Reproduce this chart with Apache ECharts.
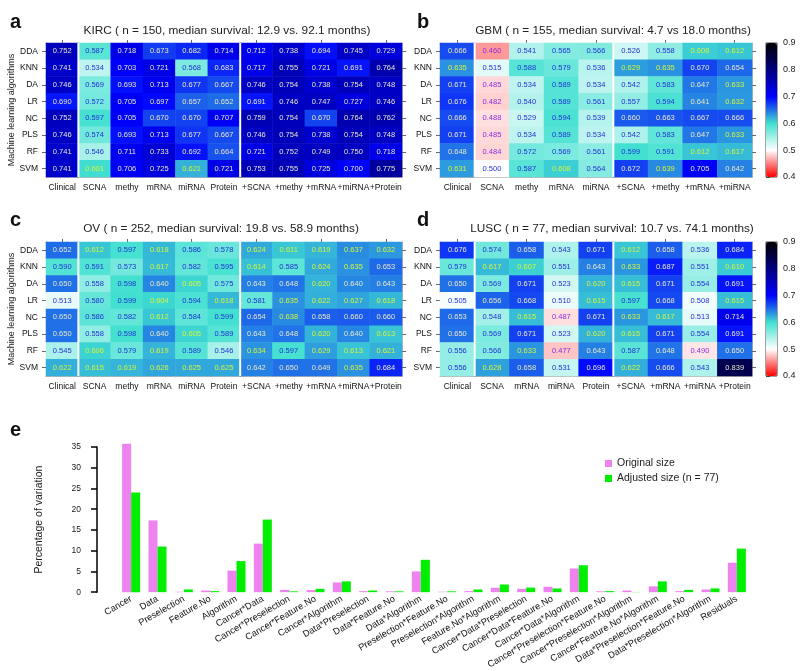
<!DOCTYPE html>
<html>
<head>
<meta charset="utf-8">
<script src="https://cdn.jsdelivr.net/npm/echarts@6/dist/echarts.min.js"></script>
<style>
  html, body { margin: 0; padding: 0; background: #fff; }
  #main { width: 800px; height: 671px; }
</style>
</head>
<body>
<div id="main"></div>
<script>
// rows of every heatmap
var algorithms = ['DDA', 'KNN', 'DA', 'LR', 'NC', 'PLS', 'RF', 'SVM'];

// a: KIRC
var kircTypes = ['Clinical', 'SCNA', 'methy', 'mRNA', 'miRNA', 'Protein', '+SCNA', '+methy', '+mRNA', '+miRNA', '+Protein'];
var kircAuc = [
  [0.752, 0.587, 0.718, 0.673, 0.682, 0.714, 0.712, 0.738, 0.694, 0.745, 0.729],
  [0.741, 0.534, 0.703, 0.721, 0.568, 0.683, 0.717, 0.755, 0.721, 0.691, 0.764],
  [0.746, 0.569, 0.693, 0.713, 0.677, 0.667, 0.746, 0.754, 0.738, 0.754, 0.748],
  [0.690, 0.572, 0.705, 0.697, 0.657, 0.652, 0.691, 0.746, 0.747, 0.727, 0.746],
  [0.752, 0.597, 0.705, 0.670, 0.670, 0.707, 0.759, 0.754, 0.670, 0.764, 0.762],
  [0.746, 0.574, 0.693, 0.713, 0.677, 0.667, 0.746, 0.754, 0.738, 0.754, 0.748],
  [0.741, 0.546, 0.711, 0.733, 0.692, 0.664, 0.721, 0.752, 0.749, 0.750, 0.718],
  [0.741, 0.601, 0.706, 0.725, 0.621, 0.721, 0.753, 0.755, 0.725, 0.700, 0.775]
];

// b: GBM
var gbmTypes = ['Clinical', 'SCNA', 'methy', 'mRNA', 'miRNA', '+SCNA', '+methy', '+mRNA', '+miRNA'];
var gbmAuc = [
  [0.666, 0.460, 0.541, 0.565, 0.566, 0.526, 0.558, 0.608, 0.612],
  [0.635, 0.515, 0.588, 0.579, 0.536, 0.629, 0.635, 0.670, 0.654],
  [0.671, 0.485, 0.534, 0.589, 0.534, 0.542, 0.583, 0.647, 0.633],
  [0.676, 0.482, 0.540, 0.589, 0.561, 0.557, 0.594, 0.641, 0.632],
  [0.666, 0.488, 0.529, 0.594, 0.539, 0.660, 0.663, 0.667, 0.666],
  [0.671, 0.485, 0.534, 0.589, 0.534, 0.542, 0.583, 0.647, 0.633],
  [0.648, 0.484, 0.572, 0.569, 0.561, 0.599, 0.591, 0.612, 0.617],
  [0.631, 0.500, 0.587, 0.608, 0.564, 0.672, 0.639, 0.705, 0.642]
];

// c: OV
var ovTypes = ['Clinical', 'SCNA', 'methy', 'mRNA', 'miRNA', 'Protein', '+SCNA', '+methy', '+mRNA', '+miRNA', '+Protein'];
var ovAuc = [
  [0.652, 0.612, 0.597, 0.618, 0.586, 0.578, 0.624, 0.611, 0.619, 0.637, 0.632],
  [0.590, 0.591, 0.573, 0.617, 0.582, 0.595, 0.614, 0.585, 0.624, 0.635, 0.653],
  [0.650, 0.558, 0.598, 0.640, 0.605, 0.575, 0.643, 0.648, 0.620, 0.640, 0.643],
  [0.513, 0.580, 0.599, 0.604, 0.594, 0.618, 0.581, 0.635, 0.622, 0.627, 0.618],
  [0.650, 0.586, 0.582, 0.612, 0.584, 0.599, 0.654, 0.638, 0.658, 0.660, 0.660],
  [0.650, 0.558, 0.598, 0.640, 0.605, 0.589, 0.643, 0.648, 0.620, 0.640, 0.613],
  [0.545, 0.606, 0.579, 0.619, 0.589, 0.546, 0.634, 0.597, 0.629, 0.613, 0.621],
  [0.622, 0.615, 0.619, 0.626, 0.625, 0.625, 0.642, 0.650, 0.649, 0.635, 0.684]
];

// d: LUSC
var luscTypes = ['Clinical', 'SCNA', 'mRNA', 'miRNA', 'Protein', '+SCNA', '+mRNA', '+miRNA', '+Protein'];
var luscAuc = [
  [0.676, 0.574, 0.658, 0.543, 0.671, 0.612, 0.658, 0.536, 0.684],
  [0.579, 0.617, 0.607, 0.551, 0.643, 0.633, 0.687, 0.551, 0.610],
  [0.650, 0.569, 0.671, 0.523, 0.620, 0.615, 0.671, 0.554, 0.691],
  [0.505, 0.656, 0.668, 0.510, 0.615, 0.597, 0.668, 0.508, 0.615],
  [0.653, 0.548, 0.615, 0.487, 0.671, 0.633, 0.617, 0.513, 0.714],
  [0.650, 0.569, 0.671, 0.523, 0.620, 0.615, 0.671, 0.554, 0.691],
  [0.556, 0.566, 0.633, 0.477, 0.643, 0.587, 0.648, 0.490, 0.650],
  [0.556, 0.628, 0.658, 0.531, 0.696, 0.622, 0.666, 0.543, 0.839]
];

// e: variance partition
var factors = ['Cancer', 'Data', 'Preselection', 'Feature.No', 'Algorithm', 'Cancer*Data',
  'Cancer*Preselection', 'Cancer*Feature.No', 'Cancer*Algorithm', 'Data*Preselection',
  'Data*Feature.No', 'Data*Algorithm', 'Preselection*Feature.No', 'Preselection*Algorithm',
  'Feature.No*Algorithm', 'Cancer*Data*Preselection', 'Cancer*Data*Feature.No',
  'Cancer*Data*Algorithm', 'Cancer*Preselection*Feature.No', 'Cancer*Preselection*Algorithm',
  'Cancer*Feature.No*Algorithm', 'Data*Preselection*Feature.No', 'Data*Preselection*Algorithm',
  'Residuals'];
var originalSize = [35.8, 17.3, 0.1, 0.4, 5.2, 11.7, 0.55, 0.5, 2.35, 0.25, 0.2, 5.0,
  0.1, 0.25, 1.05, 0.8, 1.3, 5.7, 0.2, 0.4, 1.4, 0.25, 0.65, 7.1];
var adjustedSize = [24.0, 11.0, 0.65, 0.25, 7.5, 17.5, 0.2, 0.8, 2.6, 0.4, 0.2, 7.8,
  0.2, 0.65, 1.85, 1.1, 0.9, 6.5, 0.25, 0.05, 2.6, 0.55, 0.9, 10.5];

var FONT = '"Liberation Sans", Arial, sans-serif';
var heatColors = ['#ff0000', '#ffffff', '#40e0d0', '#0000ff', '#000080', '#000000'];

function textColor(v) {
  if (v < 0.5) return '#8a2be2';
  if (v < 0.6) return '#2430d8';
  if (v < 0.64) return '#d4f23c';
  return '#e6e6c8';
}

var panels = [
  { title: 'KIRC ( n = 150, median survival: 12.9 vs. 92.1 months)', cx: 222, ty: 20,
    cols: kircTypes, vals: kircAuc, seps: [0, 5], yName: true,
    box: { left: 46, top: 43, width: 356, height: 134 } },
  { title: 'GBM ( n = 155, median survival: 4.7 vs 18.0 months)', cx: 608, ty: 20,
    cols: gbmTypes, vals: gbmAuc, seps: [0, 4], yName: false,
    box: { left: 440, top: 43, width: 312, height: 134 } },
  { title: 'OV ( n = 252, median survival: 19.8 vs. 58.9 months)', cx: 216, ty: 218,
    cols: ovTypes, vals: ovAuc, seps: [0, 5], yName: true,
    box: { left: 46, top: 242, width: 356, height: 134 } },
  { title: 'LUSC ( n = 77, median survival: 10.7 vs. 74.1 months)', cx: 607, ty: 218,
    cols: luscTypes, vals: luscAuc, seps: [0, 4], yName: false,
    box: { left: 440, top: 242, width: 312, height: 134 } }
];

var grids = [], xAxes = [], yAxes = [], series = [], titles = [];
var frame = { show: true, lineStyle: { color: '#888', width: 0.6 } };

panels.forEach(function (p, i) {
  grids.push(p.box);
  titles.push({ text: p.title, left: p.cx, top: p.ty, textAlign: 'center',
    textStyle: { fontSize: 11.8, fontWeight: 'normal', color: '#222', fontFamily: FONT } });
  xAxes.push({ type: 'category', gridIndex: i, data: p.cols, position: 'bottom',
    axisLine: frame, axisTick: { show: false }, splitLine: { show: false },
    axisLabel: { interval: 0, fontSize: 8.5, color: '#111', margin: 6, fontFamily: FONT } });
  xAxes.push({ type: 'category', gridIndex: i, data: p.cols, position: 'top',
    axisLine: frame, axisLabel: { show: false }, splitLine: { show: false },
    axisTick: { show: true, alignWithLabel: true, length: 3, lineStyle: { color: '#666' } } });
  yAxes.push({ type: 'category', gridIndex: i, data: algorithms, inverse: true, position: 'left',
    axisLine: frame, splitLine: { show: false },
    axisTick: { show: true, alignWithLabel: true, length: 4, lineStyle: { color: '#666' } },
    axisLabel: { fontSize: 8.5, color: '#111', margin: 8, fontFamily: FONT },
    name: p.yName ? 'Machine learning algorithms' : '', nameLocation: 'middle', nameGap: 30,
    nameTextStyle: { fontSize: 9, color: '#222', fontFamily: FONT } });
  yAxes.push({ type: 'category', gridIndex: i, data: algorithms, inverse: true, position: 'right',
    axisLine: frame, axisLabel: { show: false }, splitLine: { show: false },
    axisTick: { show: true, alignWithLabel: true, length: 4, lineStyle: { color: '#666' } } });
});

// colorbar axes (grids 4 and 5)
[43, 242].forEach(function (top, k) {
  var gi = 4 + k;
  grids.push({ left: 766, top: top, width: 11, height: 134, show: true,
    borderColor: '#444', borderWidth: 1, backgroundColor: 'transparent' });
  xAxes.push({ type: 'value', gridIndex: gi, show: false, min: 0, max: 1 });
  yAxes.push({ type: 'value', gridIndex: gi, min: 0.4, max: 0.9, interval: 0.1, position: 'right',
    axisLine: { show: false }, splitLine: { show: false },
    axisTick: { show: true, length: 4, lineStyle: { color: '#444' } },
    axisLabel: { fontSize: 9, color: '#222', margin: 6, fontFamily: FONT,
      formatter: function (v) { return v.toFixed(1); } } });
});

// bar chart (grid 6)
grids.push({ left: 118, top: 447, width: 632, height: 146 });
xAxes.push({ type: 'category', gridIndex: 6, data: factors,
  axisLine: { show: false }, axisTick: { show: false }, splitLine: { show: false },
  axisLabel: { interval: 0, rotate: 30, fontSize: 9.3, color: '#111', margin: 6, fontFamily: FONT } });
yAxes.push({ type: 'value', gridIndex: 6, min: 0, max: 35, interval: 5, offset: 21,
  axisLine: { show: true, lineStyle: { color: '#000', width: 1.5 } },
  axisTick: { show: true, length: 6, lineStyle: { color: '#000', width: 1.5 } },
  axisLabel: { fontSize: 8.5, color: '#222', margin: 16, fontFamily: FONT },
  splitLine: { show: false },
  name: 'Percentage of variation', nameLocation: 'middle', nameGap: 52,
  nameTextStyle: { fontSize: 10.5, color: '#222', fontFamily: FONT } });

// heatmap series 0..3
panels.forEach(function (p, i) {
  var data = [];
  p.vals.forEach(function (row, r) {
    row.forEach(function (v, c) {
      data.push({ value: [c, r, v], label: { color: textColor(v) } });
    });
  });
  series.push({ type: 'heatmap', xAxisIndex: 2 * i, yAxisIndex: 2 * i, data: data,
    label: { show: true, fontSize: 7.5, fontFamily: '"Liberation Sans Narrow", "Liberation Sans", sans-serif',
      formatter: function (d) { return d.value[2].toFixed(3); } },
    emphasis: { disabled: true }, progressive: 0 });
});

// white separators between column groups
panels.forEach(function (p, i) {
  series.push({ type: 'custom', xAxisIndex: 2 * i, yAxisIndex: 2 * i, z: 5, silent: true,
    data: p.seps.map(function (k) { return [k, 0]; }),
    renderItem: function (params, api) {
      var pt = api.coord([api.value(0), 0]);
      var w = api.size([1, 0])[0];
      var cs = params.coordSys;
      var x = pt[0] + w / 2;
      return { type: 'line', shape: { x1: x, y1: cs.y, x2: x, y2: cs.y + cs.height },
        style: { stroke: '#ffffff', lineWidth: 2 } };
    } });
});

series.push({ name: 'Original size', type: 'bar', xAxisIndex: 10, yAxisIndex: 10,
  data: originalSize, barWidth: 9, barGap: '0%', clip: false,
  itemStyle: { color: '#ee82ee' }, emphasis: { disabled: true } });
series.push({ name: 'Adjusted size (n = 77)', type: 'bar', xAxisIndex: 10, yAxisIndex: 10,
  data: adjustedSize, barWidth: 9, barGap: '0%', clip: false,
  itemStyle: { color: '#00ee00' }, emphasis: { disabled: true } });

// panel letters
[['a', 5, 7], ['b', 412, 7], ['c', 5, 205], ['d', 412, 205], ['e', 5, 415]].forEach(function (l) {
  titles.push({ text: l[0], left: l[1], top: l[2],
    textStyle: { fontSize: 20, fontWeight: 'bold', color: '#111', fontFamily: FONT } });
});

var vmBase = { type: 'continuous', min: 0.4, max: 0.9, inRange: { color: heatColors },
  calculable: false, hoverLink: false, itemWidth: 11, itemHeight: 134, padding: 0,
  text: null, left: 766 };

var chart = echarts.init(document.getElementById('main'), null, { renderer: 'canvas' });
chart.setOption({
  animation: false,
  backgroundColor: '#fff',
  title: titles,
  grid: grids,
  xAxis: xAxes,
  yAxis: yAxes,
  visualMap: [
    Object.assign({}, vmBase, { top: 43, seriesIndex: [0, 1] }),
    Object.assign({}, vmBase, { top: 242, seriesIndex: [2, 3] })
  ],
  legend: { data: ['Original size', 'Adjusted size (n = 77)'], orient: 'vertical',
    left: 600, top: 453, itemWidth: 7, itemHeight: 7, itemGap: 4, icon: 'rect',
    textStyle: { fontSize: 10.5, color: '#222', fontFamily: FONT } },
  series: series
});
</script>
</body>
</html>
